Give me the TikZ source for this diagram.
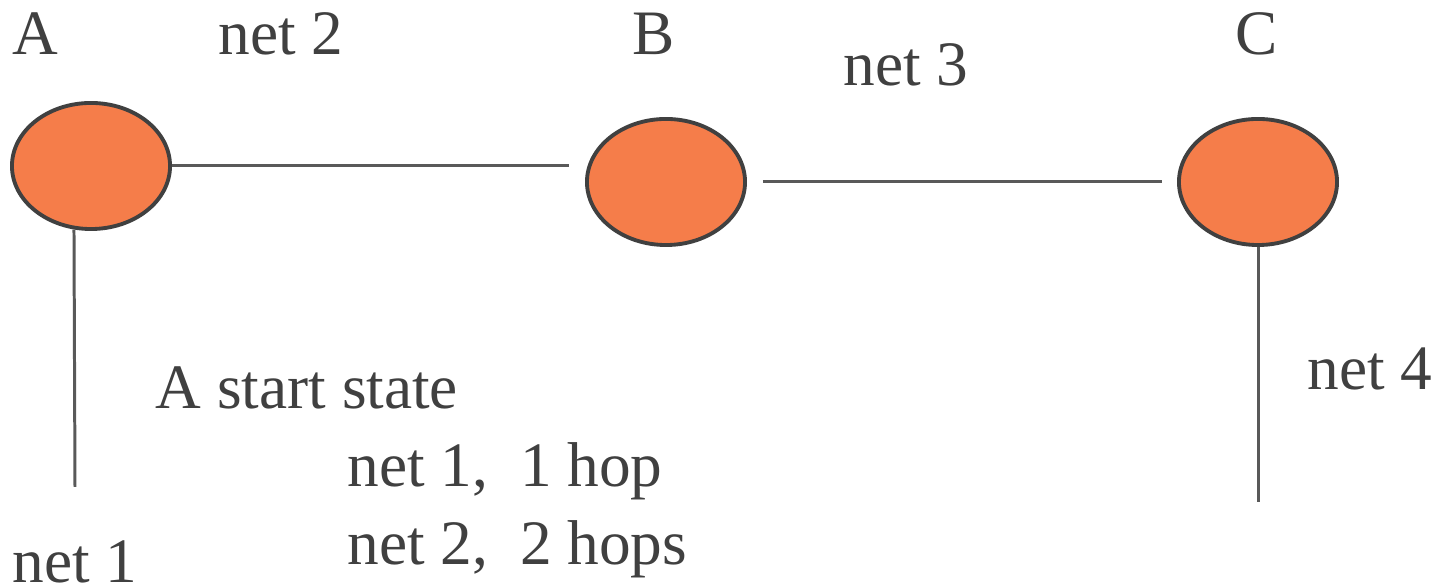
\documentclass[tikz,border=0pt]{standalone}
\usepackage{fontspec}
\setmainfont{Liberation Serif}
\usepackage{tikz}
\usetikzlibrary{shapes.geometric, positioning}

\definecolor{routerfill}{HTML}{F57D4A}
\definecolor{inkgray}{HTML}{404040}
\definecolor{wiregray}{HTML}{595959}

\tikzset{
  router/.style={ellipse, draw=inkgray, line width=1.1pt, fill=routerfill,
    minimum width=1.58cm, minimum height=1.26cm, inner sep=0pt},
  wire/.style={draw=wiregray, line width=0.85pt},
  lbl/.style={anchor=base west, inner sep=0pt, text=inkgray,
    font=\fontsize{18}{22}\selectfont}
}

\begin{document}
\begin{tikzpicture}[x=0.01cm, y=-0.01cm]
  \useasboundingbox (0,0) rectangle (1439,586);
  % routers
  \node[router] (A) at (91,166) {};
  \node[router] (B) at (666,182) {};
  \node[router] (C) at (1258,182) {};
  % router names
  \node[lbl] (nameA) at (12,55) {A};
  \node[lbl] (nameB) at (632,55) {B};
  \node[lbl] (nameC) at (1235,55) {C};
  % nets
  \coordinate (endA) at (75,487);
  \coordinate (endC) at (1258,502);
  \draw[wire, shorten >=4.5pt] (A.east) -- (A.east -| B.west);
  \draw[wire, shorten <=4.5pt, shorten >=4.3pt] (B.east) -- (C.west);
  \draw[wire] (A.255) -- (endA);
  \draw[wire] (C.south) -- (endC);
  \node[lbl] (net1) at (12,583) {net 1};
  \node[lbl] (net2) at (218,55) {net 2};
  \node[lbl] (net3) at (843,86) {net 3};
  \node[lbl] (net4) at (1307,390) {net 4};
  % start state of A
  \node[lbl] (start) at (155,409) {A start state};
  \node[lbl] (row1) at (347,487) {net 1,\ \ 1 hop};
  \node[lbl] (row2) at (347,565) {net 2,\ \ 2 hops};
\end{tikzpicture}
\end{document}
